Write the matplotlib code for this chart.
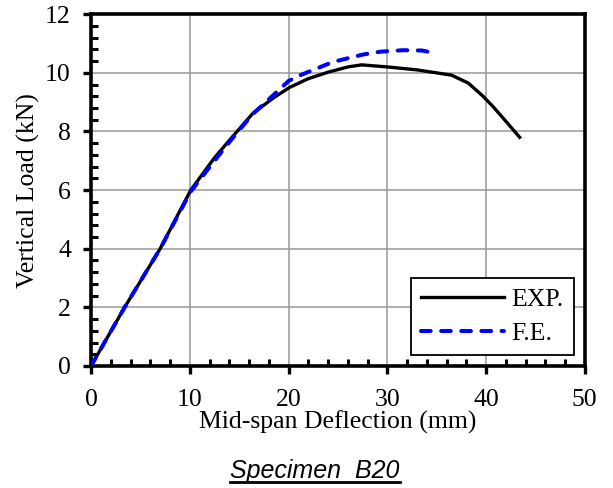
import matplotlib.pyplot as plt
from matplotlib.ticker import MultipleLocator
from matplotlib.lines import Line2D

plt.rcParams['font.family'] = ['Liberation Serif', 'DejaVu Serif']

# EXP. curve
exp_x = [0, 3.4, 7.0, 10.1, 12.5, 14.4, 16.4, 18.5, 20.1, 22.0, 24.0, 26.0, 27.4,
         30.0, 33.0, 36.5, 38.2, 39.7, 40.7, 42.0, 43.4]
exp_y = [0, 2.0, 4.0, 6.0, 7.1, 7.85, 8.62, 9.15, 9.5, 9.8, 10.02, 10.2, 10.27,
         10.2, 10.1, 9.92, 9.65, 9.2, 8.85, 8.35, 7.8]
# F.E. curve
fe_x = [0, 3.4, 7.0, 10.1, 12.5, 14.4, 16.4, 18.5, 20.0, 21.2, 24.5, 27.5, 29.3,
        31.6, 33.5, 35.0]
fe_y = [0, 2.0, 4.0, 5.95, 7.0, 7.8, 8.6, 9.25, 9.72, 9.92, 10.37, 10.62, 10.72,
        10.77, 10.76, 10.66]

fig = plt.figure(figsize=(6.13, 4.88), dpi=100)
ax = fig.add_axes([0.1485, 0.25, 0.8055, 0.721])

ax.plot(exp_x, exp_y, color='black', lw=2.4, label='EXP.', zorder=3)
ax.plot(fe_x, fe_y, color='blue', lw=2.9, ls=(0, (2.4, 2.6)), dash_capstyle='round',
        label='F.E.', zorder=4)

ax.set_xlim(0, 50)
ax.set_ylim(0, 12)
ax.xaxis.set_major_locator(MultipleLocator(10))
ax.xaxis.set_minor_locator(MultipleLocator(2))
ax.yaxis.set_major_locator(MultipleLocator(2))
ax.yaxis.set_minor_locator(MultipleLocator(0.4))
ax.tick_params(which='major', direction='out', length=5.5, width=2.4, labelsize=18.5)
ax.tick_params(axis='x', which='major', pad=11)
ax.tick_params(axis='y', which='major', pad=9)
ax.tick_params(which='minor', direction='in', length=5, width=2.2)
ax.grid(True, which='major', color='#999999', lw=1.1)
for s in ax.spines.values():
    s.set_linewidth(2.6)

ax.set_xlabel('Mid-span Deflection (mm)', fontsize=18.5, labelpad=0)
ax.set_ylabel('Vertical Load (kN)', fontsize=18.5, labelpad=4)

leg = ax.legend(loc='lower right', bbox_to_anchor=(0.978, 0.03), fontsize=18.5,
                frameon=True, fancybox=False, edgecolor='black', framealpha=1,
                handlelength=3.2, handletextpad=0.3, borderpad=0.4, labelspacing=0.42,
                borderaxespad=0)
leg.get_frame().set_linewidth(1.3)

t = fig.text(0.514, 0.021, 'Specimen  B20', fontsize=18, style='italic',
             family=['Liberation Sans', 'DejaVu Sans'], ha='center', va='baseline')
fig.canvas.draw()
bb = t.get_window_extent().transformed(fig.transFigure.inverted())
fig.add_artist(Line2D([bb.x0, bb.x1], [0.012, 0.012],
                      transform=fig.transFigure, color='black', lw=2))

fig.savefig('out.png', dpi=100)
